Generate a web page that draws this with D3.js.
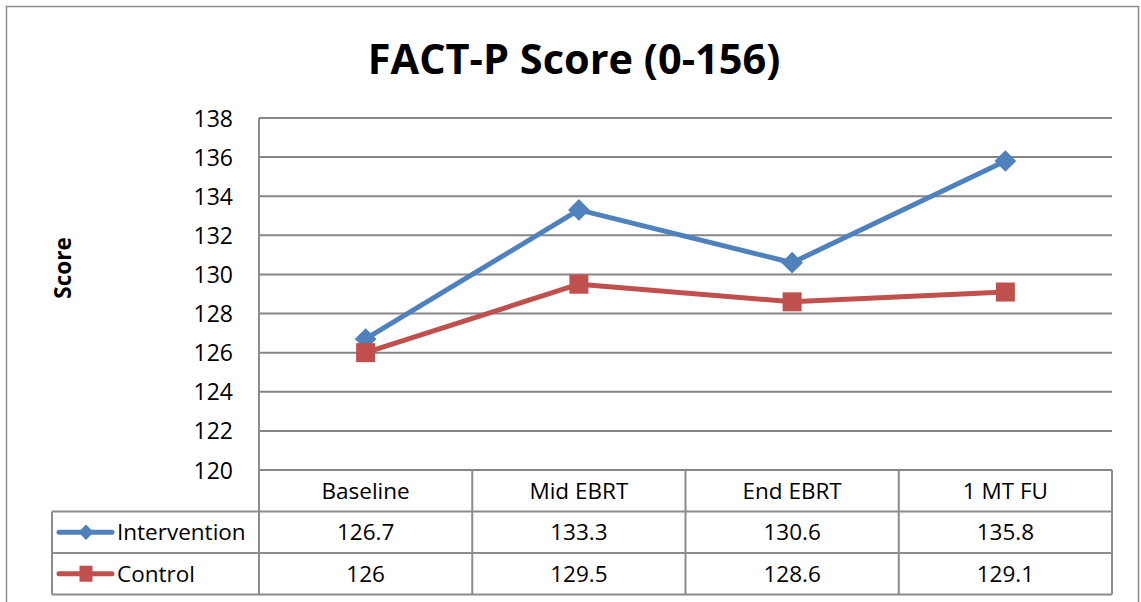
<!DOCTYPE html>
<html>
<head>
<meta charset="utf-8">
<script src="https://cdn.jsdelivr.net/npm/d3@7"></script>
<style>
  html, body { margin: 0; padding: 0; background: #fff; }
  svg { display: block; }
  text { font-family: "Open Sans", "Noto Sans", sans-serif; fill: #000; }
</style>
</head>
<body>
<svg id="chart" width="1141" height="602"></svg>
<script>
const title = "FACT-P Score (0-156)";
const yTitle = "Score";
const categories = ["Baseline", "Mid EBRT", "End EBRT", "1 MT FU"];
const seriesNames = ["Intervention", "Control"];
const intervention = [126.7, 133.3, 130.6, 135.8];
const control = [126, 129.5, 128.6, 129.1];
const intervLabels = ["126.7", "133.3", "130.6", "135.8"];
const controlLabels = ["126", "129.5", "128.6", "129.1"];
const yTicks = [120, 122, 124, 126, 128, 130, 132, 134, 136, 138];

const series = [
  { name: seriesNames[0], values: intervention, labels: intervLabels, color: "#4F81BD", marker: "diamond" },
  { name: seriesNames[1], values: control, labels: controlLabels, color: "#C0504D", marker: "square" }
];

const svg = d3.select("#chart");
const plot = { left: 259, right: 1112, top: 118, bottom: 470 };
const tableLeft = 52;
const rowH = 41.5;
const gridColor = "#868686";
const borderColor = "#8c8c8c";
const tableFont = "22.5px";

// outer border
svg.append("rect").attr("x", 6.5).attr("y", 6.5).attr("width", 1132).attr("height", 620)
  .attr("fill", "#fff").attr("stroke", "#8c8c8c").attr("stroke-width", 1.5);

const x = d3.scaleBand().domain(categories).range([plot.left, plot.right]);
const y = d3.scaleLinear().domain([120, 138]).range([plot.bottom, plot.top]);

// gridlines
svg.append("g").selectAll("line").data(yTicks).join("line")
  .attr("x1", plot.left).attr("x2", plot.right)
  .attr("y1", d => y(d)).attr("y2", d => y(d))
  .attr("stroke", gridColor).attr("stroke-width", 2);

// y axis labels
const yAxis = d3.axisLeft(y).tickValues(yTicks).tickSize(0).tickPadding(0).tickFormat(d3.format("d"));
const ya = svg.append("g").attr("transform", `translate(${plot.left - 26},0)`).call(yAxis);
ya.select(".domain").remove();
ya.selectAll("text").style("font-size", "23px").style("font-family", "'Open Sans', sans-serif").attr("dy", "0.35em");

// y title
svg.append("text")
  .attr("transform", `translate(71,268) rotate(-90)`)
  .attr("text-anchor", "middle")
  .style("font-size", "22.5px").style("font-weight", "bold")
  .text(yTitle);

// title
svg.append("text").attr("x", 574).attr("y", 74).attr("text-anchor", "middle")
  .style("font-size", "41.5px").style("font-weight", "bold").text(title);

// table
const tbl = svg.append("g");
const tableBottom = plot.bottom + rowH * 3;
[plot.bottom + rowH, plot.bottom + rowH * 2, tableBottom].forEach(yy => {
  tbl.append("line").attr("x1", tableLeft).attr("x2", plot.right).attr("y1", yy).attr("y2", yy)
    .attr("stroke", borderColor).attr("stroke-width", 2);
});
tbl.append("line").attr("x1", tableLeft).attr("x2", tableLeft)
  .attr("y1", plot.bottom + rowH).attr("y2", tableBottom).attr("stroke", borderColor).attr("stroke-width", 2);
const dividers = categories.map(c => x(c)).concat([plot.right]);
dividers.forEach((xx, i) => {
  tbl.append("line").attr("x1", xx).attr("x2", xx)
    .attr("y1", i === 0 ? plot.top : plot.bottom).attr("y2", tableBottom)
    .attr("stroke", borderColor).attr("stroke-width", 2);
});
tbl.append("line").attr("x1", plot.left).attr("x2", plot.right).attr("y1", plot.top).attr("y2", plot.top)
  .attr("stroke", gridColor).attr("stroke-width", 2);

// header labels
tbl.selectAll("text.cat").data(categories).join("text").attr("class", "cat")
  .attr("x", d => x(d) + x.bandwidth() / 2).attr("y", plot.bottom + rowH / 2)
  .attr("dy", "0.36em").attr("text-anchor", "middle").style("font-size", tableFont).text(d => d);

// rows
series.forEach((s, i) => {
  const cy = plot.bottom + rowH * (i + 1) + rowH / 2;
  tbl.selectAll(null).data(categories).join("text")
    .attr("x", d => x(d) + x.bandwidth() / 2).attr("y", cy).attr("dy", "0.36em")
    .attr("text-anchor", "middle").style("font-size", tableFont)
    .text((d, j) => s.labels[j]);
  tbl.append("line").attr("x1", 59).attr("x2", 112).attr("y1", cy).attr("y2", cy)
    .attr("stroke", s.color).attr("stroke-width", 5).attr("stroke-linecap", "round");
  if (s.marker === "diamond") {
    tbl.append("path").attr("d", d3.symbol(d3.symbolDiamond2, 150)())
      .attr("transform", `translate(86,${cy})`).attr("fill", s.color);
  } else {
    tbl.append("rect").attr("x", 79.5).attr("y", cy - 8).attr("width", 13).attr("height", 16).attr("fill", s.color);
  }
  tbl.append("text").attr("x", 117).attr("y", cy).attr("dy", "0.36em").style("font-size", tableFont).text(s.name);
});

// lines and markers
const line = d3.line().x((d, i) => x(categories[i]) + x.bandwidth() / 2).y(d => y(d));
series.forEach(s => {
  svg.append("path").datum(s.values).attr("d", line).attr("fill", "none")
    .attr("stroke", s.color).attr("stroke-width", 5).attr("stroke-linejoin", "round");
  const g = svg.append("g");
  s.values.forEach((v, i) => {
    const cx = x(categories[i]) + x.bandwidth() / 2, cy = y(v);
    if (s.marker === "diamond") {
      g.append("path").attr("d", d3.symbol(d3.symbolDiamond2, 300)())
        .attr("transform", `translate(${cx},${cy})`).attr("fill", s.color);
    } else {
      g.append("rect").attr("x", cx - 9.5).attr("y", cy - 9.5).attr("width", 19).attr("height", 19).attr("fill", s.color);
    }
  });
});
</script>
</body>
</html>
